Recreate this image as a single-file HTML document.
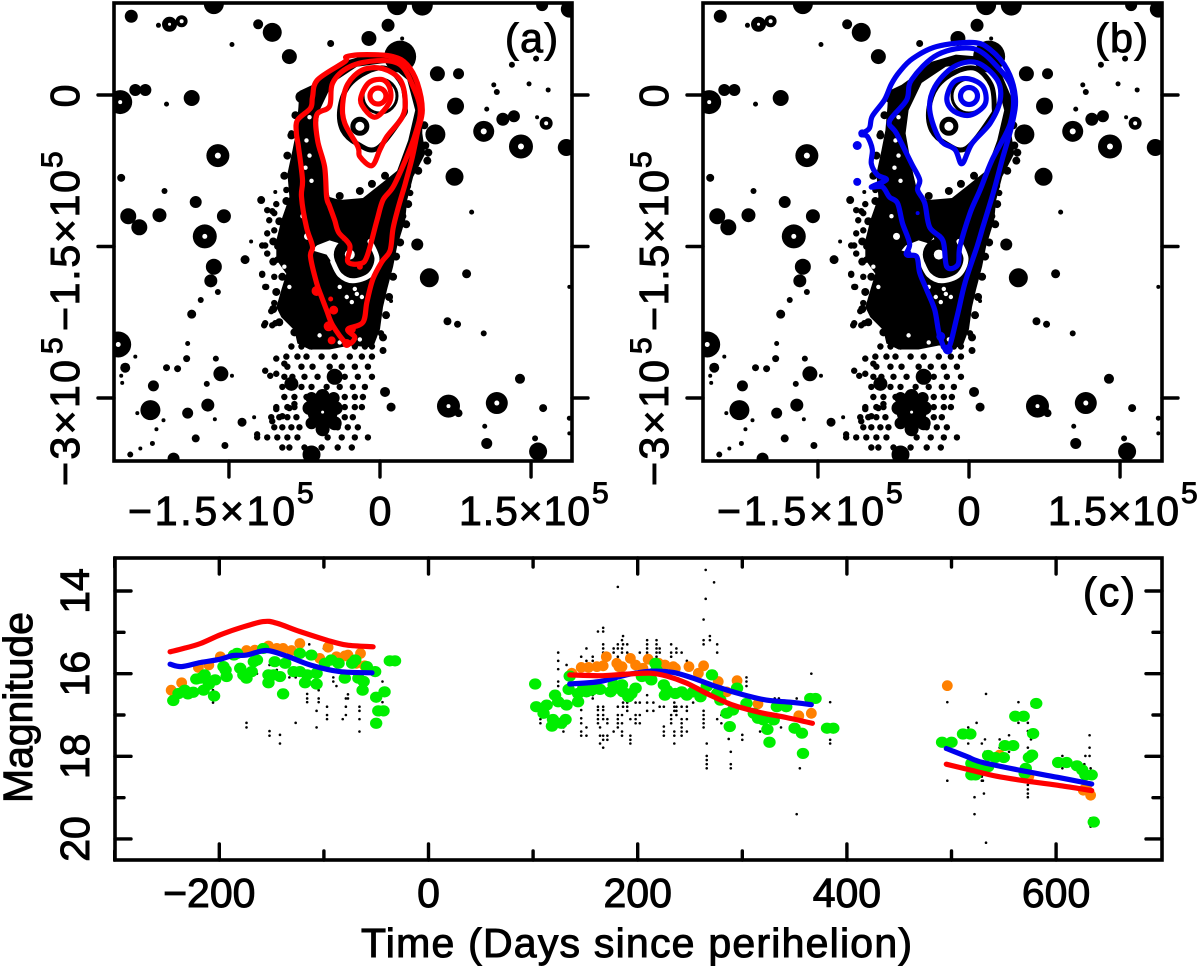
<!DOCTYPE html>
<html lang="en">
<head>
<meta charset="utf-8">
<title>Comet isophotes and light curve</title>
<style>
html,body{margin:0;padding:0;background:#fff;}
svg{display:block;}
text{font-family:"Liberation Sans",sans-serif;fill:#000;stroke:#000;stroke-width:1px;}
</style>
</head>
<body>
<svg id="fig" xmlns="http://www.w3.org/2000/svg" width="1200" height="967" viewBox="0 0 1200 967">
<defs>
<clipPath id="clipA"><rect x="114" y="3" width="458" height="458"/></clipPath>
<clipPath id="clipB"><rect x="703" y="3" width="459" height="458"/></clipPath>
</defs>
<g id="panelA"></g>
<g id="panelB"></g>
<g id="panelC"></g>

<g font-size="41">
<text x="128" y="525" textLength="167" lengthAdjust="spacing">−1.5×10</text>
<text x="297" y="503" font-size="30">5</text>
<text x="380" y="525" text-anchor="middle">0</text>
<text x="459" y="525" textLength="131" lengthAdjust="spacing">1.5×10</text>
<text x="592" y="503" font-size="30">5</text>
</g>
<g font-size="41">
<text x="717" y="525" textLength="167" lengthAdjust="spacing">−1.5×10</text>
<text x="886" y="503" font-size="30">5</text>
<text x="969" y="525" text-anchor="middle">0</text>
<text x="1048" y="525" textLength="131" lengthAdjust="spacing">1.5×10</text>
<text x="1181" y="503" font-size="30">5</text>
</g>
<g font-size="41">
<text transform="translate(79,96) rotate(-90)" text-anchor="middle">0</text>
<text transform="translate(79,331) rotate(-90)" textLength="161" lengthAdjust="spacing">−1.5×10</text>
<text transform="translate(62,168) rotate(-90)" font-size="30">5</text>
<text transform="translate(79,486) rotate(-90)" textLength="126" lengthAdjust="spacing">−3×10</text>
<text transform="translate(62,354) rotate(-90)" font-size="30">5</text>
</g>
<g font-size="41">
<text transform="translate(668,96) rotate(-90)" text-anchor="middle">0</text>
<text transform="translate(668,331) rotate(-90)" textLength="161" lengthAdjust="spacing">−1.5×10</text>
<text transform="translate(651,168) rotate(-90)" font-size="30">5</text>
<text transform="translate(668,486) rotate(-90)" textLength="126" lengthAdjust="spacing">−3×10</text>
<text transform="translate(651,354) rotate(-90)" font-size="30">5</text>
</g>
<text x="505" y="52" font-size="41" textLength="53">(a)</text>
<text x="1095" y="52" font-size="41" textLength="53">(b)</text>
<text x="1083" y="606" font-size="41" textLength="52">(c)</text>
<text transform="translate(32,803) rotate(-90)" font-size="41" textLength="191">Magnitude</text>
<text x="361" y="957" font-size="41" textLength="551" lengthAdjust="spacing">Time (Days since perihelion)</text>
</svg>

<script>
/* ---------- Panels (a) and (b): field data in units of 10^3 km ---------- */
const fieldTicks = [-150, 0, 150];
const fieldTickY = [0, -150, -300];
/* x, y, radius, hole radius */
const stars = [
[-247,78,6.5,0],[-209,70,7.5,1.5],[-197,73,6,2],[-220,69,2.5,0],[-165,90,10,0],[-121,70,5,0],[-107,62,9.5,0],[-147,50,2.5,0],[-90,38,7.5,0],[-49,51,3.5,0],[-11,56,7.5,0],[8,69,6.5,0],[17,89,10,0],[42,89,10.5,0],[22,56,2,0],[20,38,16,0],[57,21,7.5,0],[78,21,5.5,0],[131,30,3,0],[155,36,3,0],[113,10,2.5,0],[116,3,3,0],[148,11,2.5,0],[167,5,2.5,0],[161,89,6,0],[188,85,8.5,0],
[-258,-7,12,2],[-243,5,6,0],[-233,5,6,0],[-187,-3,8,0],[-212,-9,2.5,0],[-78,-2,6,0],[75,-11,8.5,0],[106,-14,2.5,0],[122,-24,6.5,0],[133,-21,6,0],[103,-36,10.5,3],[165,-28,6.5,2],[156,-22,2,0],[55,-39,10,0],[140,-51,12,3],[185,-52,8.5,0],[-161,-60,11.5,3],[74,-81,9,0],[-257,-82,4,0],[-214,-95,3,0],[-183,-106,6,0],[-118,-104,4,0],[-104,-96,2,0],[-250,-120,8,0],[-239,-131,8,0],[-219,-119,7,0],[-155,-120,7,0],[-174,-140,12,2.5],[91,-116,2.5,0],[37,-148,6,0],[-128,-145,2,0],[-165,-170,8,0],[-168,-184,6.5,0],[-161,-195,3,0],[-134,-163,4.5,0],[-178,-203,3,0],[-187,-217,4.5,0],[49,-181,9.5,0],[86,-177,4.5,0],[188,-190,2,0],[11,-204,2,0],[67,-224,4,0],[77,-227,3.5,0],[103,-236,3,0],[3,-253,3.5,0],[-260,-247,13,2.5],[-191,-246,2.5,0],[-243,-259,2,0],[-192,-261,3.5,0],[-163,-261,3,0],[-212,-270,3.5,0],[-201,-271,3.5,0],[-253,-270,5,0],[-257,-278,2,0],[-256,-285,2,0],[-158,-276,7.5,0],[-147,-278,2,0],[-225,-288,5.5,0],[-172,-286,3,0],[-228,-312,10,0],[-241,-315,2,0],[-191,-315,5.5,0],[-171,-307,6.5,0],[-215,-322,2,0],[-164,-321,2,0],[-137,-324,4.5,0],[-125,-319,2,0],[-222,-331,2,0],[-183,-340,4,0],[-226,-345,2.5,0],[-238,-350,2,0],[-248,-356,3,0],[-154,-347,3.5,0],[5,-294,5,0],[11,-309,4.5,0],[68,-308,11.5,2],[78,-315,4,0],[116,-305,11,2.5],[139,-281,5,0],[162,-310,4,0],[104,-328,2.5,0],[106,-345,5.5,0],[154,-340,3,0],[157,-353,9,0],[188,-320,2.5,0],[188,-335,2,0],[-205,-360,6,0],
[-57,-314,15,1.5],[-70,-310,7,0],[-44,-310,7,0],[-57,-298,7,0],[-57,-331,7,0],[-68,-325,6,0],[-45,-325,7,0],[-68,-300,6,0],[-46,-300,6,0],[-45,-279,8,0],[-88,-286,7,0],[-68,-356,9,0],[48,-57,4,0]
];
const tailOutline = [[-80,4],[-67,10],[-53,20],[-37,33],[-13,40],[10,38],[30,26],[42,-2],[42,-38],[45,-58],[33,-81],[27,-104],[25,-124],[17,-150],[13,-170],[7,-193],[3,-210],[0,-232],[-7,-250],[-30,-248],[-50,-252],[-70,-252],[-82,-246],[-85,-233],[-98,-220],[-103,-210],[-98,-193],[-93,-177],[-103,-163],[-103,-144],[-98,-124],[-90,-101],[-92,-78],[-87,-55],[-83,-35],[-81,-12]];
const tailVoid = [[-47,12],[-23,28],[7,32],[27,15],[35,-15],[28,-45],[17,-75],[-3,-91],[-17,-102],[-40,-104],[-50,-101],[-57,-71],[-63,-38],[-60,-15]];
const innerIsophote = [[-40,-15],[-32,8],[-13,23],[7,26],[22,10],[25,-12],[22,-22],[-3,-53],[-23,-48],[-37,-35]];
const whiteBlotch = [[-63,-149],[-50,-144],[-40,-147],[-35,-141],[-32,-153],[-43,-161],[-47,-167],[-53,-158],[-67,-154]];
const whiteArc = [[-47,-165],[-40,-178],[-27,-184],[-10,-178],[-3,-162],[-10,-145]];
const whiteSpecks = [[-23,-197],[-33,-200],[-40,-190],[-28,-205],[-18,-200],[-25,-192],[-70,-60],[-68,-85],[-73,-45],[-70,-22],[-74,-72],[-77,-120],[-95,-170],[-90,-190],[-60,-238],[-40,-245],[-20,-242]];
const tailDots = [[-107,-115],[-110,-124],[-105,-134],[-114,-149],[-112,-157],[-117,-178],[-114,-190],[-108,-214],[-114,-226],[-104,-226],[-93,-94],[-103,-108],[-88,-38],[30,-97],[23,-120],[1,-236],[-103,-261],[-95,-266],[-114,-273],[-109,-278],[-103,-276],[-122,-336],[-85,-306],[-90,-310],[-103,-311],[-97,-318],[-107,-323],
[-88,-249],[-78,-249],[-68,-249],[-25,-249],[-15,-249],[-8,-249],
[-93,-259],[-82,-259],[-73,-259],[-58,-259],[-45,-259],[-30,-259],[-18,-259],[-8,-259],
[-92,-269],[-78,-269],[-67,-269],[-50,-269],[-38,-269],[-25,-269],[-12,-269],
[-95,-279],[-87,-279],[-75,-279],[-62,-279],[-47,-279],[-35,-279],[-22,-279],[-8,-279],
[-97,-289],[-88,-289],[-78,-289],[-68,-289],[-53,-289],[-40,-289],[-27,-289],[-15,-289],
[-95,-299],[-85,-299],[-73,-299],[-45,-299],[-35,-299],[-25,-299],[-17,-299],
[-103,-309],[-92,-309],[-85,-309],[-35,-309],[-25,-309],[-18,-309],
[-108,-319],[-100,-319],[-92,-319],[-83,-319],[-35,-319],[-27,-319],
[-105,-329],[-97,-329],[-88,-329],[-80,-329],[-42,-329],[-32,-329],[-22,-329],
[-122,-339],[-112,-339],[-102,-339],[-92,-339],[-82,-339],[-52,-339],[-38,-339],[-25,-339],[-12,-339],
[-97,-349],[-90,-349],[-75,-349],[-58,-349],[-42,-349],[-28,-349],
[-118,-104],[-112,-114],[-105,-117],[-112,-137],[-117,-149],[-102,-150],[-102,-163],[-117,-177],[-113,-190],[-105,-180],[-115,-228],[-107,-228],[-105,-206]];
const tailEdgeLumps = [[27,-90],[28,-108],[26,-128],[20,-146],[16,-160],[13,-180],[9,-200],[6,-218],[3,-240],[38,-75],[45,-50],[47,-65],[44,-30],[-88,-40],[-92,-60],[-95,-80],[-93,-105],[-100,-125],[-106,-145],[-106,-165],[-97,-180],[-103,-195],[-106,-212],[-100,-225],[-85,-235],[-84,-20],[-40,-100],[-20,-95],[-8,-88],[5,-80]];
const tailRings = [[0,-1,17,3],[-20,-31,7,5]];

const redContour1 = [[-33,-246],[-47,-228],[-53,-213],[-58,-200],[-63,-186],[-69,-160],[-67,-150],[-73,-131],[-78,-101],[-77,-84],[-81,-51],[-83,-38],[-82,-25],[-69,-13],[-67,-2],[-62,15],[-35,33],[-33,38],[-13,40],[13,38],[27,30],[37,12],[42,-15],[37,-38],[32,-62],[25,-88],[18,-112],[13,-132],[10,-154],[2,-165],[-7,-182],[-13,-205],[-17,-225],[-32,-232],[-25,-240]];
const redContour2 = [[-32,-165],[-30,-149],[-41,-136],[-45,-124],[-50,-110],[-53,-101],[-55,-71],[-62,-45],[-63,-20],[-50,-11],[-47,12],[-30,28],[-3,34],[20,30],[33,8],[40,-15],[35,-39],[25,-65],[13,-91],[3,-104],[-3,-124],[-13,-160],[-20,-167]];
const redContour3 = [[-8,-70],[-20,-61],[-22,-51],[-35,-28],[-37,-9],[-32,11],[-17,25],[3,26],[20,15],[25,-5],[22,-22],[7,-41],[0,-54]];
const redContour4 = [[-5,-22],[-18,-10],[-18,1],[-10,13],[3,15],[10,6],[9,-8]];
const redCore = [-2,-1,8];
const redBlobs = [[-63,-194,5],[-49,-202,2.5],[-46,-213,4.5],[-51,-229,5],[-48,-243,4],[-33,-246,4.5],[-20,-170,3],[-28,-232,4]];

const blueContour1 = [[-21,-252],[-29,-239],[-34,-213],[-42,-193],[-49,-176],[-52,-160],[-62,-158],[-59,-147],[-66,-127],[-71,-107],[-79,-101],[-86,-91],[-97,-91],[-82,-84],[-91,-79],[-97,-68],[-96,-54],[-101,-41],[-107,-39],[-99,-33],[-96,-21],[-84,-5],[-77,11],[-69,23],[-56,36],[-32,48],[4,52],[21,45],[38,25],[46,-2],[43,-28],[33,-64],[24,-97],[14,-130],[8,-150],[-4,-186],[-12,-220]];
const blueContour2 = [[-22,-170],[-26,-144],[-39,-131],[-44,-107],[-51,-94],[-49,-84],[-57,-68],[-72,-38],[-79,-26],[-62,-5],[-57,15],[-31,40],[4,46],[28,28],[43,5],[41,-28],[23,-64],[11,-94],[1,-117],[-9,-150],[-11,-168]];
const blueContour3 = [[-7,-68],[-14,-54],[-29,-44],[-39,-15],[-34,8],[-15,28],[8,32],[28,15],[31,-5],[21,-28],[3,-48]];
const blueContour4 = [[-22,-4],[-15,13],[0,16],[14,8],[16,-9],[1,-20],[-15,-16]];
const blueCore = [0,-1,8.5];
const blueBlobs = [[-111,-50,4.5],[-111,-86,4],[-106,-38,4],[-61,-157,4],[-21,-252,5],[-28,-239,4.5],[-51,-117,2]];

/* ---------- Panel (c): days since perihelion / magnitude ---------- */
const xTicksC = [-200,0,200,400,600];
const xTickLabelsC = ['−200','0','200','400','600'];
const xMinorC = [-300,-100,100,300,500];
const yTicksC = [14,16,18,20];
const yTickLabelsC = ['14','16','18','20'];
const yMinorC = [15,17,19];

const redLine1 = [[-247,15.47],[-234,15.39],[-218,15.27],[-199,15.06],[-180,14.89],[-158,14.74],[-145,14.78],[-123,14.98],[-97,15.19],[-78,15.31],[-53,15.35]];
const blueLine1 = [[-247,15.77],[-236,15.83],[-218,15.73],[-199,15.65],[-187,15.56],[-174,15.55],[-155,15.44],[-136,15.57],[-113,15.79],[-85,15.95],[-54,15.98]];
const redLine2 = [[135,16.03],[164,16.05],[189,16.01],[212,15.99],[228,16.06],[247,16.23],[266,16.48],[291,16.76],[317,16.94],[342,17.06],[367,17.2]];
const blueLine2 = [[135,16.25],[164,16.19],[189,16.03],[212,15.94],[234,15.97],[253,16.11],[276,16.32],[298,16.49],[323,16.64],[346,16.69],[366,16.75]];
const blueLine3 = [[495,17.81],[515,18.01],[530,18.15],[572,18.37],[604,18.52],[634,18.67]];
const redLine3 = [[495,18.19],[518,18.33],[543,18.48],[572,18.6],[604,18.71],[634,18.83]];

const greenPoints = [[-244,16.65],[-239,16.48],[-233,16.40],[-225,16.45],[-230,16.49],[-222,16.13],[-214,16.03],[-218,16.11],[-204,16.15],[-210,16.26],[-215,16.40],[-205,16.54],[-196,15.83],[-193,16.07],[-194,15.91],[-186,15.55],[-183,15.51],[-180,15.87],[-174,16.11],[-177,16.03],[-169,15.95],[-164,15.67],[-158,15.39],[-167,15.71],[-153,16.03],[-148,16.03],[-142,16.07],[-153,16.22],[-147,15.71],[-139,16.49],[-137,15.75],[-129,15.95],[-123,15.51],[-123,15.95],[-116,16.03],[-118,16.22],[-112,15.55],[-107,16.25],[-107,15.99],[-99,15.75],[-93,15.67],[-86,15.75],[-80,16.11],[-73,15.75],[-70,15.67],[-67,16.11],[-62,16.19],[-63,16.40],[-59,15.83],[-51,15.95],[-50,16.57],[-42,16.44],[-48,16.90],[-43,16.90],[-50,17.20],[-37,15.69],[-32,15.69],
[102,16.25],[103,16.80],[113,16.76],[110,16.96],[121,16.52],[124,16.68],[132,16.76],[118,17.27],[119,17.11],[127,17.20],[131,17.11],[134,16.38],[135,16.06],[143,16.68],[143,16.48],[151,16.44],[161,16.35],[174,16.44],[180,16.35],[186,16.44],[191,16.56],[198,16.35],[204,16.07],[213,16.15],[217,15.75],[218,15.91],[225,16.27],[226,16.52],[236,16.48],[247,16.52],[260,16.56],[271,16.03],[279,16.64],[285,16.96],[288,17.28],[291,16.88],[295,16.35],[311,16.96],[315,17.08],[324,17.35],[326,17.66],[330,17.12],[333,16.80],[342,16.80],[350,17.32],[357,17.44],[358,17.93],[365,16.60],[370,16.60],[381,17.32],[387,17.32],[148,16.35],[156,16.40],[164,16.38],[177,16.27],[185,16.27],[194,16.48],[228,16.40],[242,16.44],[253,16.44],[266,16.31],[276,16.48],[304,16.72],[320,17.12],
[491,17.66],[500,17.66],[511,17.46],[518,17.46],[519,18.17],[527,18.25],[535,18.25],[523,18.45],[519,18.45],[535,17.98],[542,18.03],[550,18.03],[551,17.74],[559,17.74],[561,17.03],[569,17.03],[578,17.45],[581,16.72],[574,18.03],[577,17.97],[571,18.29],[570,18.41],[602,18.15],[610,18.15],[620,18.23],[625,18.33],[628,18.45],[634,18.45],[636,19.59]];
const orangePoints = [[-246,16.40],[-236,16.22],[-220,15.85],[-210,15.79],[-199,15.59],[-174,15.44],[-166,15.43],[-153,15.33],[-145,15.39],[-139,15.39],[-131,15.44],[-123,15.27],[-104,15.63],[-96,15.36],[-88,15.59],[-80,15.57],[-77,15.55],[-65,15.51],[-61,15.81],[-69,15.75],
[146,15.85],[153,15.85],[161,15.83],[170,15.59],[167,15.81],[180,15.75],[182,15.83],[193,15.63],[198,15.79],[210,15.65],[226,15.79],[236,15.87],[249,15.83],[263,15.81],[277,16.19],[295,16.17],[315,16.73],[354,17.02],[366,16.96],[137,15.99],[185,15.83],[205,15.87],[220,15.75],[234,15.83],[258,15.99],[285,16.44],
[496,16.29],[546,17.97],[574,18.48],[626,18.82],[633,18.94],[629,18.73]];
/* each row: day, magnitudes seen at that day */
const imageColumns = [
[107,[17.1,17.2]],[124,[15.49,15.69,15.89,16.19,16.30]],[129,[17.30,17.40]],[132,[15.79]],[137,[15.89]],[146,[15.59,16.88,17.08,17.20,17.40,17.50]],[151,[15.39,15.69,17.30,17.50]],[157,[15.59,15.69,16.52,16.60]],[162,[14.98,16.80,16.88,17.0,17.1,17.2]],[164,[17.30,17.50,17.69]],[167,[14.89,14.98,15.29,15.39,15.49,16.80,16.88,17.0,17.1,17.5,17.6,17.79]],[171,[17.1,17.2,17.5,17.6]],[177,[15.39,15.49,17.40]],[181,[13.9,15.29,15.39,15.59,15.69,16.80,17.0,17.1,17.2,17.3]],[185,[15.19,15.39,15.49,17.0,17.2,17.4,17.5]],[186,[15.09,15.29,16.70,16.80]],[190,[15.29,15.49,16.70,16.80,16.9]],[193,[17.1,17.5,17.6,17.69]],[198,[16.70,17.0,17.1,17.2]],[202,[15.49,16.7,17.0,17.2]],[209,[15.19,15.29,15.39,15.49,16.52,16.7,16.9]],[215,[16.9,16.7]],[218,[15.19,15.29,15.39,15.49,15.59]],[221,[15.39,15.49,16.8]],[225,[16.8,17.28,17.4,17.5]],[232,[15.29,15.49,15.59,17.0,17.1,17.2]],[235,[16.7,16.8,16.9,17.4,17.5,17.69]],[237,[15.39,15.49,16.8,17.0,16.9]],[242,[15.49,16.8,17.1,17.2,17.3,17.4,17.5]],[247,[15.69,16.8,16.9,17.1,17.4]],[253,[16.7]],[263,[14.69,15.19,15.29,16.9,17.0,17.1,17.2,17.3]],[265,[13.49,14.19]],[266,[17.69,17.99,18.09,18.19,18.29]],[269,[15.09,15.19]],[273,[13.79]],[276,[15.29,15.49,17.1]],[280,[17.0,17.2]],[287,[17.58]],[289,[17.89,18.19,18.29]],[300,[17.48,17.6]],[304,[16.09,16.19,16.3]],[317,[17.4]],[331,[16.6]],[335,[16.6]],[337,[17.3]],[352,[16.6,19.4]],[355,[18.29]],[366,[16.0]],[384,[16.69,17.6,17.69]],
[-206,[16.4,16.7]],[-174,[17.19,17.3]],[-164,[16.0]],[-152,[15.79,17.39,17.5]],[-145,[15.91]],[-142,[17.48,17.69]],[-133,[16.09]],[-127,[16.09,17.19]],[-116,[16.49,16.6,16.69]],[-114,[15.29]],[-107,[16.9,17.3]],[-105,[16.6,16.69,16.4]],[-100,[15.39]],[-97,[16.8,17.0,17.1]],[-91,[16.09,16.19]],[-88,[16.3]],[-82,[17.1]],[-79,[16.6,16.8,17.0]],[-77,[16.5,16.6]],[-66,[16.8,16.9,17.1,17.4]],[-44,[16.19,16.69]],[-47,[17.0,17.28]],
[496,[16.69,18.59]],[516,[17.3,17.69]],[522,[18.99,19.4]],[524,[17.19]],[529,[17.69,18.49,18.59]],[530,[18.59]],[531,[18.9]],[532,[17.59,17.89]],[533,[16.49,20.09]],[546,[17.59,17.79]],[555,[17.49,17.89]],[564,[16.69,17.19]],[573,[17.19,17.39,17.79,18.69,18.8,18.9,18.99]],[576,[17.59]],[577,[16.78]],[606,[17.99,18.29]],[628,[17.99]],[632,[17.99,17.49,17.79]],[627,[18.19]],[633,[18.29,19.5,19.7]]
];

/* ---------- Helpers ---------- */
const NS = 'http://www.w3.org/2000/svg';
function mk(tag, parent, props){
  const el = document.createElementNS(NS, tag);
  for (const k in props) el.setAttribute(k, props[k]);
  parent.appendChild(el);
  return el;
}
function pathOf(pts, sx, sy, close){
  return pts.map((p,i)=>(i?'L':'M')+sx(p[0]).toFixed(1)+' '+sy(p[1]).toFixed(1)).join('')+(close?'Z':'');
}
/* Catmull-Rom smoothing through the data points */
function smoothOf(pts, sx, sy, close){
  const P = pts.map(p=>[sx(p[0]),sy(p[1])]);
  const n = P.length;
  const at = i => close ? P[(i+n)%n] : P[Math.max(0,Math.min(n-1,i))];
  let d = 'M'+P[0][0].toFixed(1)+' '+P[0][1].toFixed(1);
  const last = close ? n : n-1;
  for (let i=0;i<last;i++){
    const p0=at(i-1),p1=at(i),p2=at(i+1),p3=at(i+2);
    const c1=[p1[0]+(p2[0]-p0[0])/6,p1[1]+(p2[1]-p0[1])/6];
    const c2=[p2[0]-(p3[0]-p1[0])/6,p2[1]-(p3[1]-p1[1])/6];
    d+='C'+c1[0].toFixed(1)+' '+c1[1].toFixed(1)+' '+c2[0].toFixed(1)+' '+c2[1].toFixed(1)+' '+p2[0].toFixed(1)+' '+p2[1].toFixed(1);
  }
  return d+(close?'Z':'');
}

function drawField(g, x0, clipId, frameL, frameR, contours, core, blobs, color){
  const sx = v => x0 + 1.007*v;
  const sy = v => 95 - 1.01*v;
  const clip = mk('g', g, {'clip-path':'url(#'+clipId+')'});
  
  

  const tail = mk('path', clip, {d:pathOf(tailOutline,sx,sy,true)+pathOf(tailVoid,sx,sy,true),'fill-rule':'evenodd',fill:'#000'});
  
  

  const iso = mk('path', clip, {d:smoothOf(innerIsophote,sx,sy,true),fill:'none',stroke:'#000','stroke-width':5});
  
  

  for (const s of tailRings){
    const r = mk('circle', clip, {cx:sx(s[0]),cy:sy(s[1]),r:s[2],fill:'none',stroke:'#000','stroke-width':s[3]});
    
    
  }

  const blotch = mk('path', clip, {d:pathOf(whiteBlotch,sx,sy,true),fill:'#fff'});
  
  

  const arc = mk('path', clip, {d:smoothOf(whiteArc,sx,sy,false),fill:'none',stroke:'#fff','stroke-width':5,'stroke-linecap':'round'});
  
  

  const s1 = mk('circle', clip, {cx:sx(-30),cy:sy(-158),r:16,fill:'#000'});
  
  
  const s1h = mk('circle', clip, {cx:sx(-30),cy:sy(-158),r:5,fill:'#fff'});
  
  
  const s2 = mk('circle', clip, {cx:sx(-72),cy:sy(-140),r:13,fill:'#000'});
  
  
  const s2h = mk('circle', clip, {cx:sx(-72),cy:sy(-140),r:3.5,fill:'#fff'});
  
  

  for (const p of whiteSpecks){
    const w = mk('circle', clip, {cx:sx(p[0]),cy:sy(p[1]),r:2.2,fill:'#fff'});
    
    
  }
  for (const p of tailEdgeLumps){
    const e = mk('circle', clip, {cx:sx(p[0]),cy:sy(p[1]),r:4,fill:'#000'});
    
    
  }
  for (const p of tailDots){
    const d = mk('circle', clip, {cx:sx(p[0]),cy:sy(p[1]),r:3.2,fill:'#000'});
    
    
  }
  for (const s of stars){
    const c = mk('circle', clip, {cx:sx(s[0]),cy:sy(s[1]),r:s[2],fill:'#000'});
    
    
    if (s[3]){
      const h = mk('circle', clip, {cx:sx(s[0]),cy:sy(s[1]),r:s[3],fill:'#fff'});
      
      
    }
  }
  for (const ct of contours){
    const l = mk('path', clip, {d:smoothOf(ct,sx,sy,true),fill:'none',stroke:color,'stroke-width':5.2,'stroke-linejoin':'round'});
    
    
  }
  const cr = mk('circle', clip, {cx:sx(core[0]),cy:sy(core[1]),r:core[2],fill:'none',stroke:color,'stroke-width':5.2});
  
  
  for (const b of blobs){
    const bc = mk('circle', clip, {cx:sx(b[0]),cy:sy(b[1]),r:b[2],fill:color});
    
    
  }
  const frame = mk('rect', g, {x:frameL,y:3,width:frameR-frameL,height:458,fill:'none',stroke:'#000','stroke-width':3.6});
  
  
  for (const t of fieldTicks){
    const tk = mk('line', g, {x1:sx(t),x2:sx(t),y1:461,y2:477,stroke:'#000','stroke-width':3.4,'stroke-linecap':'round'});
    
    
  }
  for (const t of fieldTickY){
    const a = mk('line', g, {x1:frameL-16,x2:frameL,y1:sy(t),y2:sy(t),stroke:'#000','stroke-width':3.4,'stroke-linecap':'round'});
    
    
    const b = mk('line', g, {x1:frameR,x2:frameR+16,y1:sy(t),y2:sy(t),stroke:'#000','stroke-width':3.4,'stroke-linecap':'round'});
    
    
  }
}

drawField(document.getElementById('panelA'), 380, 'clipA', 114, 572,
  [redContour1,redContour2,redContour3,redContour4], redCore, redBlobs, '#ff0000');
drawField(document.getElementById('panelB'), 969, 'clipB', 703, 1162,
  [blueContour1,blueContour2,blueContour3,blueContour4], blueCore, blueBlobs, '#0000ee');

/* ---------- Panel (c) ---------- */
(function(){
  const g = document.getElementById('panelC');
  const L = 115, R = 1162, T = 558, B = 860;
  const sx = d => 428.5 + 1.046*d;
  const sy = m => 591 + 41.33*(m-14);

  for (const col of imageColumns){
    for (const m of col[1]){
      const d = mk('circle', g, {cx:sx(col[0]),cy:sy(m),r:1.3,fill:'#000'});
      
      
    }
  }
  for (const p of orangePoints){
    const c = mk('circle', g, {cx:sx(p[0]),cy:sy(p[1]),r:5.4,fill:'#ff8000'});
    
    
  }
  for (const p of greenPoints){
    const c = mk('ellipse', g, {cx:sx(p[0]),cy:sy(p[1]),rx:6.2,ry:5.6,fill:'#00ee00'});
    
    
  }
  for (const seg of [blueLine1,blueLine2,blueLine3]){
    const l = mk('path', g, {d:smoothOf(seg,sx,sy,false),fill:'none',stroke:'#0000ee','stroke-width':5.2,'stroke-linecap':'round','stroke-linejoin':'round'});
    
    
  }
  for (const seg of [redLine1,redLine2,redLine3]){
    const l = mk('path', g, {d:smoothOf(seg,sx,sy,false),fill:'none',stroke:'#ff0000','stroke-width':5.2,'stroke-linecap':'round','stroke-linejoin':'round'});
    
    
  }
  const frame = mk('rect', g, {x:L,y:T,width:R-L,height:B-T,fill:'none',stroke:'#000','stroke-width':3.6});
  
  

  xTicksC.forEach((t,i)=>{
    const a = mk('line', g, {x1:sx(t),x2:sx(t),y1:B,y2:B-16,stroke:'#000','stroke-width':3.4,'stroke-linecap':'round'});
    
    
    const b = mk('line', g, {x1:sx(t),x2:sx(t),y1:T,y2:T+16,stroke:'#000','stroke-width':3.4,'stroke-linecap':'round'});
    
    
    const lb = mk('text', g, {x:sx(t)-(xTickLabelsC[i][0]==='−'?10:0),y:907,'text-anchor':'middle','font-size':41});
    lb.textContent = xTickLabelsC[i];
    
    
  });
  for (const t of xMinorC){
    const a = mk('line', g, {x1:sx(t),x2:sx(t),y1:B,y2:B-9,stroke:'#000','stroke-width':3.4,'stroke-linecap':'round'});
    
    
    const b = mk('line', g, {x1:sx(t),x2:sx(t),y1:T,y2:T+9,stroke:'#000','stroke-width':3.4,'stroke-linecap':'round'});
    
    
  }
  yTicksC.forEach((t,i)=>{
    const a = mk('line', g, {x1:L,x2:L+16,y1:sy(t),y2:sy(t),stroke:'#000','stroke-width':3.4,'stroke-linecap':'round'});
    
    
    const b = mk('line', g, {x1:R,x2:R-16,y1:sy(t),y2:sy(t),stroke:'#000','stroke-width':3.4,'stroke-linecap':'round'});
    
    
    const lb = mk('text', g, {transform:'translate(89,'+sy(t)+') rotate(-90)','text-anchor':'middle','font-size':41});
    lb.textContent = yTickLabelsC[i];
    
    
  });
  for (const t of yMinorC){
    const a = mk('line', g, {x1:L,x2:L+9,y1:sy(t),y2:sy(t),stroke:'#000','stroke-width':3.4,'stroke-linecap':'round'});
    
    
    const b = mk('line', g, {x1:R,x2:R-9,y1:sy(t),y2:sy(t),stroke:'#000','stroke-width':3.4,'stroke-linecap':'round'});
    
    
  }
})();
</script>
</body>
</html>
